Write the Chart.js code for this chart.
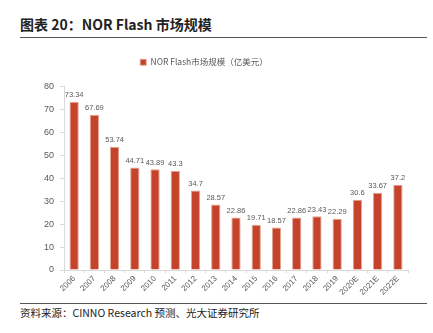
<!DOCTYPE html>
<html>
<head>
<meta charset="utf-8">
<script src="https://cdn.jsdelivr.net/npm/chart.js@4"></script>
<style>
  html, body { margin: 0; padding: 0; background: #fff; }
  body { width: 433px; height: 333px; position: relative; overflow: hidden; font-family: "Noto Sans CJK SC", "Noto Sans", sans-serif; }
  .title { position: absolute; left: 20px; top: 14px; font-size: 14px; font-weight: bold; color: #222; white-space: nowrap; }
  .rule { position: absolute; left: 20px; width: 407px; height: 1px; background: #555; }
  .source { position: absolute; left: 20px; top: 305px; font-size: 10.5px; color: #222; white-space: nowrap; }
  #wrap { position: absolute; left: 0; top: 44px; width: 433px; height: 259px; }
</style>
</head>
<body>
<div class="title">图表 20：NOR Flash 市场规模</div>
<div class="rule" style="top:37px"></div>
<div id="wrap"><canvas id="chart"></canvas></div>
<div class="rule" style="top:303px"></div>
<div class="source">资料来源：CINNO Research 预测、光大证券研究所</div>
<script>
const years = ['2006', '2007', '2008', '2009', '2010', '2011', '2012', '2013', '2014',
  '2015', '2016', '2017', '2018', '2019', '2020E', '2021E', '2022E'];
const marketSize = [73.34, 67.69, 53.74, 44.71, 43.89, 43.3, 34.7, 28.57, 22.86,
  19.71, 18.57, 22.86, 23.43, 22.29, 30.6, 33.67, 37.2];
const seriesName = 'NOR Flash市场规模（亿美元）';

const gray = '#595959';
const axisColor = '#d9d9d9';

// value labels above each bar
const barLabels = {
  id: 'barLabels',
  afterDatasetsDraw(chart) {
    const ctx = chart.ctx;
    const meta = chart.getDatasetMeta(0);
    ctx.save();
    ctx.font = '7.5px "Liberation Sans", Arial, sans-serif';
    ctx.fillStyle = gray;
    ctx.textAlign = 'center';
    ctx.textBaseline = 'bottom';
    meta.data.forEach((bar, i) => {
      ctx.fillText(String(marketSize[i]), bar.x, bar.y - 3);
    });
    ctx.restore();
  }
};

// extra room between legend and plot
const legendGap = {
  id: 'legendGap',
  beforeInit(chart) {
    const fit = chart.legend.fit;
    chart.legend.fit = function () {
      fit.call(this);
      this.height += 10;
    };
  }
};

new Chart(document.getElementById('chart'), {
  type: 'bar',
  data: {
    labels: years,
    datasets: [{
      label: seriesName,
      data: marketSize,
      backgroundColor: '#c5432a',
      borderColor: '#e2a595',
      borderWidth: { left: 1, right: 1, top: 1, bottom: 0 },
      categoryPercentage: 1,
      barPercentage: 0.46
    }]
  },
  options: {
    responsive: true,
    maintainAspectRatio: false,
    animation: false,
    layout: { padding: { top: 2, right: 25, left: 0, bottom: 0 } },
    plugins: {
      legend: {
        position: 'top',
        labels: {
          color: gray,
          font: { size: 8.5, family: '"Noto Sans CJK SC", sans-serif' },
          boxWidth: 6,
          boxHeight: 6,
          padding: 12
        }
      },
      tooltip: { enabled: false }
    },
    scales: {
      x: {
        grid: { display: true, drawOnChartArea: false, drawTicks: true, tickLength: 3, color: axisColor },
        border: { color: axisColor },
        ticks: {
          color: gray,
          font: { size: 8, family: '"Liberation Sans", Arial, sans-serif' },
          maxRotation: 45,
          minRotation: 45,
          padding: 1
        },
        afterFit(s) { s.height = 33; }
      },
      y: {
        min: 0,
        max: 80,
        grid: { display: true, drawOnChartArea: false, drawTicks: true, tickLength: 4, color: axisColor },
        border: { color: axisColor },
        ticks: {
          stepSize: 10,
          color: gray,
          font: { size: 9, family: '"Liberation Sans", Arial, sans-serif' },
          padding: 6
        },
        afterFit(s) { s.width = 64; }
      }
    }
  },
  plugins: [barLabels, legendGap]
});
</script>
</body>
</html>
